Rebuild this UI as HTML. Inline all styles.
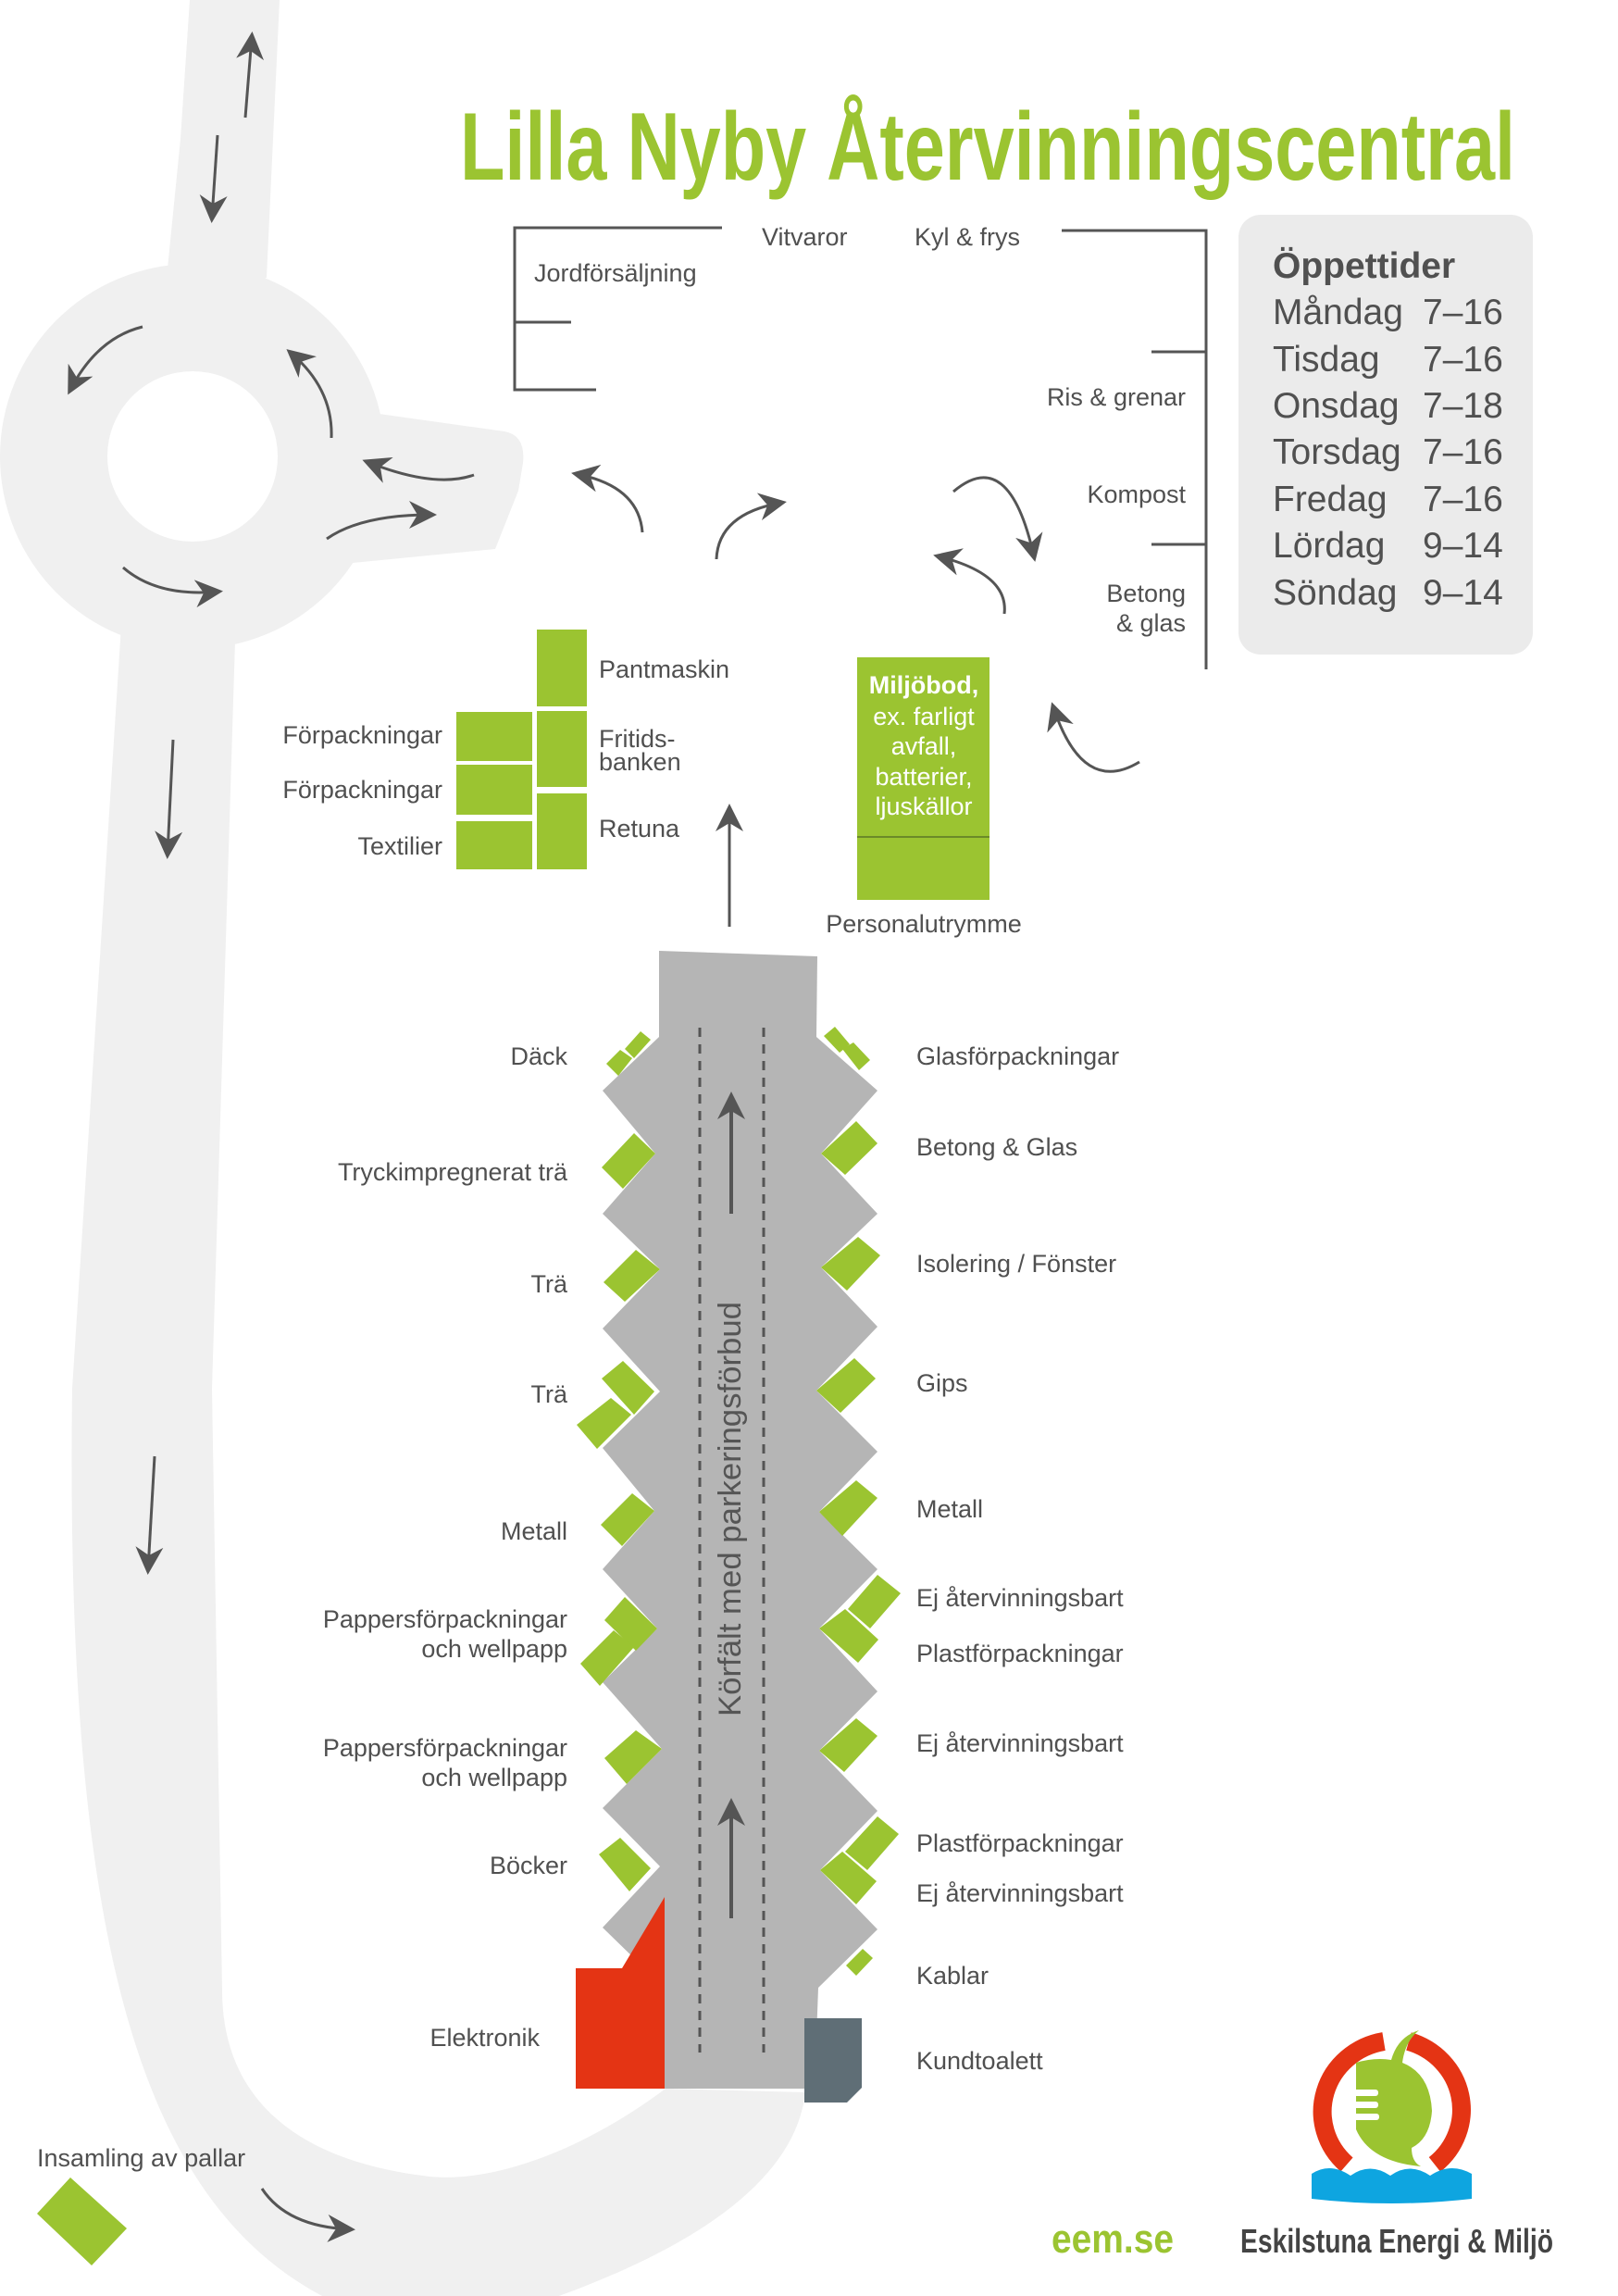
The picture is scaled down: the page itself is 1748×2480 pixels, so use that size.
<!DOCTYPE html>
<html><head><meta charset="utf-8"><style>
html,body{margin:0;padding:0;background:#fff;}
svg{display:block;}
text{font-family:"Liberation Sans",sans-serif;}
</style></head><body>
<svg width="1748" height="2480" viewBox="0 0 1748 2480" xmlns="http://www.w3.org/2000/svg">
<defs>
<marker id="ah" viewBox="0 0 10 10" refX="8" refY="5" markerWidth="30" markerHeight="30" markerUnits="userSpaceOnUse" orient="auto">
<path d="M0,0 L10,5 L0,10 L3,5 Z" fill="#555"/>
</marker>
</defs>
<!-- roads -->
<g fill="#f0f0f0">
<path d="M205,0 L302,0 L288,300 L178,320 L195,150 Z"/>
<circle cx="208" cy="493" r="208"/>
<path d="M360,440 L545,466 Q568,470 565,500 L560,530 L535,593 L360,610 Z"/>
<path d="M132,660 L78,1500 C70,2100 150,2400 380,2495 L560,2495 C760,2430 860,2350 870,2260 L719,2256 C620,2330 520,2360 457,2350 C300,2330 240,2250 240,2150 L229,1500 L255,660 Z"/>
</g>
<circle cx="208" cy="493" r="92" fill="#fff"/>
<!-- road arrows -->
<g stroke="#555" stroke-width="3" fill="none" marker-end="url(#ah)">
<line x1="265" y1="127" x2="272" y2="40"/>
<line x1="235" y1="146" x2="229" y2="235"/>
<path d="M154,353 Q105,365 76,421"/>
<path d="M358,473 Q360,420 314,381"/>
<path d="M512,513 Q470,528 397,499"/>
<path d="M353,582 Q390,556 466,556"/>
<path d="M133,613 Q170,645 235,639"/>
<line x1="187" y1="799" x2="181" y2="922"/>
<line x1="167" y1="1573" x2="160" y2="1695"/>
<path d="M283,2364 Q310,2405 378,2408"/>
<path d="M694,575 Q690,525 623,512"/>
<path d="M774,604 Q776,555 844,543"/>
<path d="M1030,531 Q1090,480 1117,601"/>
<path d="M1085,663 Q1090,620 1014,601"/>
<path d="M1231,823 Q1170,860 1138,764"/>
<line x1="788" y1="1001" x2="788" y2="874"/>
</g>
<!-- title -->
<text x="497" y="194" font-size="104" font-weight="bold" fill="#9bc431" textLength="1140" lengthAdjust="spacingAndGlyphs">Lilla Nyby Återvinningscentral</text>
<!-- brackets -->
<g stroke="#555" stroke-width="3" fill="none">
<path d="M780,246 L556,246 L556,421 L644,421"/>
<line x1="556" y1="348" x2="617" y2="348"/>
<path d="M1147,249 L1303,249 L1303,723"/>
<line x1="1244" y1="380" x2="1303" y2="380"/>
<line x1="1244" y1="588" x2="1303" y2="588"/>
</g>
<g font-size="27" fill="#505050">
<text x="823" y="265">Vitvaror</text>
<text x="988" y="265">Kyl &amp; frys</text>
<text x="577" y="304">Jordförsäljning</text>
<g text-anchor="end">
<text x="1281" y="438">Ris &amp; grenar</text>
<text x="1281" y="543">Kompost</text>
<text x="1281" y="650">Betong</text>
<text x="1281" y="682">&amp; glas</text>
</g>
</g>
<!-- hours -->
<rect x="1338" y="232" width="318" height="475" rx="24" fill="#ebebeb"/>
<g fill="#505050" font-size="39">
<text x="1375" y="300" font-weight="bold">Öppettider</text>
<text x="1375" y="350">Måndag</text><text x="1537" y="350">7–16</text>
<text x="1375" y="401">Tisdag</text><text x="1537" y="401">7–16</text>
<text x="1375" y="451">Onsdag</text><text x="1537" y="451">7–18</text>
<text x="1375" y="501">Torsdag</text><text x="1537" y="501">7–16</text>
<text x="1375" y="552">Fredag</text><text x="1537" y="552">7–16</text>
<text x="1375" y="602">Lördag</text><text x="1537" y="602">9–14</text>
<text x="1375" y="653">Söndag</text><text x="1537" y="653">9–14</text>
</g>
<!-- green blocks -->
<g fill="#9bc431">
<rect x="580" y="680" width="54" height="83"/>
<rect x="580" y="768" width="54" height="82"/>
<rect x="580" y="857" width="54" height="82"/>
<rect x="493" y="769" width="82" height="53"/>
<rect x="493" y="826" width="82" height="54"/>
<rect x="493" y="887" width="82" height="52"/>
<rect x="926" y="710" width="143" height="262"/>
</g>
<line x1="926" y1="904" x2="1069" y2="904" stroke="#6b8a28" stroke-width="2"/>
<g fill="#fff" font-size="27" text-anchor="middle">
<text x="998" y="749" font-weight="bold">Miljöbod,</text>
<text x="998" y="783">ex. farligt</text>
<text x="998" y="815">avfall,</text>
<text x="998" y="848">batterier,</text>
<text x="998" y="880">ljuskällor</text>
</g>
<g font-size="27" fill="#505050">
<text x="647" y="732">Pantmaskin</text>
<text x="647" y="807">Fritids-</text>
<text x="647" y="832">banken</text>
<text x="647" y="904">Retuna</text>
<g text-anchor="end">
<text x="478" y="803">Förpackningar</text>
<text x="478" y="862">Förpackningar</text>
<text x="478" y="923">Textilier</text>
</g>
<text x="998" y="1007" text-anchor="middle">Personalutrymme</text>
</g>
<!-- central road -->
<polygon fill="#b5b5b5" points="712,1027 883,1033 882,1120 948,1178 887,1246 948,1311 887,1369 948,1433 882,1502 948,1568 885,1633 948,1695 885,1759 948,1827 885,1891 948,1956 886,2020 948,2084 884,2147 880,2256 718,2256 690,2120 651,2082 713,2016 651,1953 715,1889 651,1817 710,1759 651,1695 707,1632 651,1564 713,1503 651,1435 713,1371 651,1311 708,1246 651,1178 712,1120"/>
<polygon fill="#e43414" points="622,2126 672,2126 718,2049 718,2256 622,2256"/>
<polygon fill="#5f6e76" points="869,2180 931,2180 931,2255 915,2271 869,2271"/>
<g stroke="#555" stroke-width="3" stroke-dasharray="10 8">
<line x1="756" y1="1110" x2="756" y2="2217"/>
<line x1="825" y1="1110" x2="825" y2="2217"/>
</g>
<g stroke="#555" stroke-width="4" marker-end="url(#ah)">
<line x1="790" y1="1311" x2="790" y2="1185"/>
<line x1="790" y1="2072" x2="790" y2="1948"/>
</g>
<text transform="translate(800,1854) rotate(-90)" font-size="34" fill="#555" textLength="448" lengthAdjust="spacingAndGlyphs">Körfält med parkeringsförbud</text>
<!-- green parallelograms -->
<g fill="#9bc431">
<polygon points="655,1149 670,1134 683,1143 668,1162"/>
<polygon points="675,1133 692,1114 703,1123 685,1143"/>
<polygon points="708,1246 685,1224 650,1261 673,1284"/>
<polygon points="713,1371 687,1350 652,1385 675,1406"/>
<polygon points="650,1489 673,1470 707,1503 685,1528"/>
<polygon points="623,1539 660,1510 682,1528 645,1565"/>
<polygon points="707,1632 683,1613 649,1647 672,1670"/>
<polygon points="653,1750 675,1725 710,1759 687,1783"/>
<polygon points="627,1797 663,1761 685,1779 648,1821"/>
<polygon points="715,1889 687,1869 653,1899 677,1927"/>
<polygon points="647,2003 670,1985 703,2018 680,2043"/>
<polygon points="890,1119 902,1109 918,1128 907,1137"/>
<polygon points="910,1133 922,1126 940,1145 928,1156"/>
<polygon points="887,1246 925,1211 948,1235 913,1269"/>
<polygon points="887,1369 927,1336 951,1356 915,1394"/>
<polygon points="882,1502 923,1467 946,1489 908,1526"/>
<polygon points="885,1633 925,1599 948,1618 910,1659"/>
<polygon points="916,1738 948,1701 973,1721 940,1759"/>
<polygon points="885,1759 913,1738 949,1771 927,1796"/>
<polygon points="885,1891 925,1856 948,1875 912,1914"/>
<polygon points="913,2000 948,1962 971,1981 937,2020"/>
<polygon points="886,2020 910,2000 947,2032 925,2057"/>
<polygon points="914,2123 932,2105 943,2115 925,2134"/>
<polygon points="76,2352 137,2407 99,2447 40,2391"/>
</g>
<g font-size="27" fill="#505050">
<g text-anchor="end">
<text x="613" y="1150">Däck</text>
<text x="613" y="1275">Tryckimpregnerat trä</text>
<text x="613" y="1396">Trä</text>
<text x="613" y="1515">Trä</text>
<text x="613" y="1663">Metall</text>
<text x="613" y="1758">Pappersförpackningar</text>
<text x="613" y="1790">och wellpapp</text>
<text x="613" y="1897">Pappersförpackningar</text>
<text x="613" y="1929">och wellpapp</text>
<text x="613" y="2024">Böcker</text>
<text x="583" y="2210">Elektronik</text>
</g>
<text x="990" y="1150">Glasförpackningar</text>
<text x="990" y="1248">Betong &amp; Glas</text>
<text x="990" y="1374">Isolering / Fönster</text>
<text x="990" y="1503">Gips</text>
<text x="990" y="1639">Metall</text>
<text x="990" y="1735">Ej återvinningsbart</text>
<text x="990" y="1795">Plastförpackningar</text>
<text x="990" y="1892">Ej återvinningsbart</text>
<text x="990" y="2000">Plastförpackningar</text>
<text x="990" y="2054">Ej återvinningsbart</text>
<text x="990" y="2143">Kablar</text>
<text x="990" y="2235">Kundtoalett</text>
<text x="40" y="2340">Insamling av pallar</text>
</g>
<!-- footer -->
<text x="1136" y="2433" font-size="44" font-weight="bold" fill="#9bc431" textLength="132" lengthAdjust="spacingAndGlyphs">eem.se</text>
<text x="1340" y="2433" font-size="36" font-weight="bold" fill="#444" textLength="338" lengthAdjust="spacingAndGlyphs">Eskilstuna Energi &amp; Miljö</text>
<!-- logo -->
<g>
<path d="M1495,2205 A80,77 0 0 0 1455,2338" stroke="#e43414" stroke-width="20" fill="none"/>
<path d="M1522,2205 A80,77 0 0 1 1550,2338" stroke="#e43414" stroke-width="20" fill="none"/>
<path d="M1503,2225 Q1510,2200 1533,2193 Q1518,2205 1515,2228 Q1545,2240 1547,2280 Q1545,2310 1525,2320 Q1525,2335 1535,2340 Q1480,2335 1465,2300 L1465,2228 Q1485,2222 1503,2225 Z" fill="#9bc431"/>
<g fill="#fff">
<rect x="1455" y="2257" width="34" height="7" rx="3"/>
<rect x="1455" y="2270" width="34" height="7" rx="3"/>
<rect x="1460" y="2283" width="30" height="7" rx="3"/>
</g>
<path d="M1417,2348 Q1437,2335 1459,2350 Q1480,2335 1502,2350 Q1523,2335 1545,2350 Q1567,2335 1590,2348 L1590,2375 Q1503,2385 1417,2375 Z" fill="#0ea5e0"/>
</g>
</svg>
</body></html>
